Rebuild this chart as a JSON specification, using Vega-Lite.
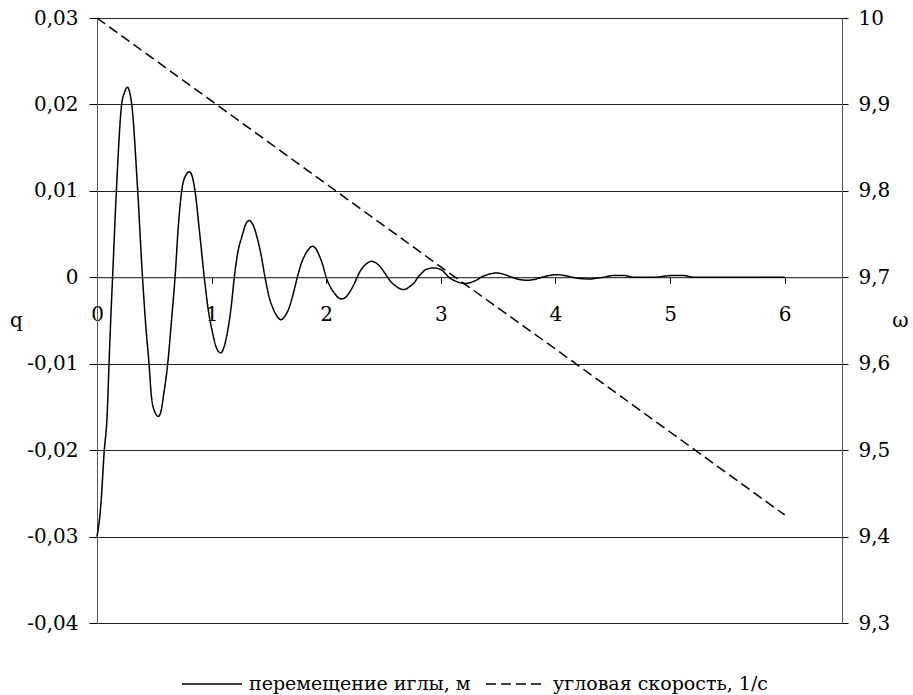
{
  "$schema": "https://vega.github.io/schema/vega-lite/v6.json",
  "width": 745,
  "height": 605,
  "autosize": {"type": "none"},
  "padding": {"left": 97, "top": 18, "right": 71, "bottom": 72},
  "background": "white",
  "config": {
    "font": "DejaVu Serif",
    "view": {"stroke": null},
    "axis": {"labelFont": "DejaVu Serif", "titleFont": "DejaVu Serif", "labelColor": "black", "titleColor": "black", "labelFontSize": 20, "titleFontSize": 20, "titleFontWeight": "normal", "tickColor": "black", "domainColor": "#555"},
    "legend": {"labelFont": "DejaVu Serif"}
  },
  "datasets": {
    "q": [
      {"t": 0, "q": -0.03}, {"t": 0.035, "q": -0.0261}, {"t": 0.061, "q": -0.0205}, {"t": 0.09, "q": -0.0155}, {"t": 0.105, "q": -0.01}, {"t": 0.122, "q": -0.0042}, {"t": 0.136, "q": 0},
      {"t": 0.169, "q": 0.01}, {"t": 0.215, "q": 0.02}, {"t": 0.24, "q": 0.0214}, {"t": 0.265, "q": 0.022}, {"t": 0.285, "q": 0.0214}, {"t": 0.303, "q": 0.02}, {"t": 0.355, "q": 0.01}, {"t": 0.397, "q": 0},
      {"t": 0.425, "q": -0.0055}, {"t": 0.454, "q": -0.01}, {"t": 0.475, "q": -0.0138}, {"t": 0.505, "q": -0.0156}, {"t": 0.535, "q": -0.0161}, {"t": 0.56, "q": -0.0154}, {"t": 0.579, "q": -0.0138}, {"t": 0.617, "q": -0.01}, {"t": 0.65, "q": -0.005}, {"t": 0.681, "q": 0},
      {"t": 0.71, "q": 0.006}, {"t": 0.739, "q": 0.01}, {"t": 0.775, "q": 0.0118}, {"t": 0.806, "q": 0.0122}, {"t": 0.83, "q": 0.0117}, {"t": 0.855, "q": 0.01}, {"t": 0.895, "q": 0.0052}, {"t": 0.936, "q": 0},
      {"t": 0.97, "q": -0.0037}, {"t": 1.008, "q": -0.0064}, {"t": 1.04, "q": -0.0081}, {"t": 1.079, "q": -0.00875}, {"t": 1.11, "q": -0.008}, {"t": 1.14, "q": -0.0062}, {"t": 1.17, "q": -0.0035}, {"t": 1.198, "q": 0},
      {"t": 1.23, "q": 0.003}, {"t": 1.264, "q": 0.0047}, {"t": 1.3, "q": 0.0062}, {"t": 1.329, "q": 0.00656}, {"t": 1.36, "q": 0.0061}, {"t": 1.397, "q": 0.0046}, {"t": 1.43, "q": 0.0027}, {"t": 1.466, "q": 0},
      {"t": 1.5, "q": -0.0022}, {"t": 1.536, "q": -0.0036}, {"t": 1.57, "q": -0.0045}, {"t": 1.606, "q": -0.0049}, {"t": 1.64, "q": -0.0045}, {"t": 1.677, "q": -0.0035}, {"t": 1.71, "q": -0.002}, {"t": 1.748, "q": 0},
      {"t": 1.78, "q": 0.0015}, {"t": 1.815, "q": 0.0026}, {"t": 1.85, "q": 0.0033}, {"t": 1.882, "q": 0.00359}, {"t": 1.91, "q": 0.0033}, {"t": 1.94, "q": 0.0025}, {"t": 1.97, "q": 0.0014}, {"t": 2.0, "q": 0},
      {"t": 2.035, "q": -0.0011}, {"t": 2.07, "q": -0.0018}, {"t": 2.1, "q": -0.0023}, {"t": 2.135, "q": -0.0025}, {"t": 2.17, "q": -0.0023}, {"t": 2.2, "q": -0.0018}, {"t": 2.235, "q": -0.001}, {"t": 2.27, "q": 0},
      {"t": 2.3, "q": 0.0008}, {"t": 2.33, "q": 0.0013}, {"t": 2.365, "q": 0.0017}, {"t": 2.397, "q": 0.00185}, {"t": 2.43, "q": 0.0017}, {"t": 2.465, "q": 0.0013}, {"t": 2.5, "q": 0.0007}, {"t": 2.535, "q": 0},
      {"t": 2.57, "q": -0.0006}, {"t": 2.605, "q": -0.001}, {"t": 2.64, "q": -0.0013}, {"t": 2.673, "q": -0.00142}, {"t": 2.705, "q": -0.0013}, {"t": 2.735, "q": -0.001}, {"t": 2.77, "q": -0.0006}, {"t": 2.8, "q": 0},
      {"t": 2.835, "q": 0.0005}, {"t": 2.87, "q": 0.0009}, {"t": 2.935, "q": 0.00108}, {"t": 3.0, "q": 0.0009}, {"t": 3.035, "q": 0.0005}, {"t": 3.07, "q": 0},
      {"t": 3.105, "q": -0.0003}, {"t": 3.14, "q": -0.0005}, {"t": 3.21, "q": -0.00073}, {"t": 3.28, "q": -0.0005}, {"t": 3.315, "q": -0.0003}, {"t": 3.35, "q": 0},
      {"t": 3.42, "q": 0.00035}, {"t": 3.488, "q": 0.0005}, {"t": 3.55, "q": 0.00035}, {"t": 3.62, "q": 0},
      {"t": 3.685, "q": -0.00025}, {"t": 3.75, "q": -0.00035}, {"t": 3.815, "q": -0.00025}, {"t": 3.88, "q": 0},
      {"t": 3.945, "q": 0.0002}, {"t": 4.01, "q": 0.0003}, {"t": 4.08, "q": 0.0002}, {"t": 4.15, "q": 0},
      {"t": 4.22, "q": -0.00015}, {"t": 4.3, "q": -0.0002}, {"t": 4.36, "q": -0.0001}, {"t": 4.42, "q": 0},
      {"t": 4.5, "q": 0.0002}, {"t": 4.6, "q": 0.0002}, {"t": 4.68, "q": 0}, {"t": 4.85, "q": 0},
      {"t": 5.02, "q": 0.0002}, {"t": 5.12, "q": 0.0002}, {"t": 5.2, "q": 0}, {"t": 5.6, "q": 0}, {"t": 6.0, "q": 0}
    ],
    "w": [
      {"t": 0, "w": 10}, {"t": 1, "w": 9.904}, {"t": 2, "w": 9.808}, {"t": 3, "w": 9.712}, {"t": 4, "w": 9.617}, {"t": 5, "w": 9.521}, {"t": 6, "w": 9.425}
    ]
  },
  "layer": [
    {
      "data": {"name": "q"},
      "mark": {"type": "line", "interpolate": "monotone", "strokeWidth": 1.5, "color": "black"},
      "encoding": {
        "x": {"field": "t", "type": "quantitative", "scale": {"domain": [0, 6.5], "nice": false},
          "axis": {"values": [0, 1, 2, 3, 4, 5, 6], "labelExpr": "toString(datum.value)", "offset": -345.7, "grid": false, "title": null, "tickSize": 6, "labelPadding": 21, "labelFlush": false, "labelOverlap": false, "domainColor": "#555"}},
        "y": {"field": "q", "type": "quantitative", "scale": {"domain": [-0.04, 0.03], "nice": false, "zero": false},
          "axis": {"values": [-0.04, -0.03, -0.02, -0.01, 0, 0.01, 0.02, 0.03], "grid": true, "gridColor": "#222", "gridWidth": 1, "tickSize": 8, "labelPadding": 11,
            "labelExpr": "replace(toString(round(datum.value*100)/100), '.', ',')",
            "title": "q", "titleAngle": 0, "titleX": -81, "titleY": 302, "titleAlign": "center", "titleBaseline": "middle"}},
        "strokeDash": {"datum": "перемещение иглы, м", "type": "nominal",
          "scale": {"domain": ["перемещение иглы, м", "угловая скорость, 1/с"], "range": [[1, 0], [10, 5]]},
          "legend": {"orient": "none", "legendX": 84, "legendY": 635, "direction": "horizontal", "title": null, "symbolType": "stroke", "symbolSize": 3600, "symbolStrokeWidth": 1.5, "symbolStrokeColor": "black", "labelFontSize": 19, "labelColor": "black", "labelOffset": 6, "columnPadding": 12, "labelLimit": 400}}
      }
    },
    {
      "data": {"name": "w"},
      "mark": {"type": "line", "strokeWidth": 1.5, "color": "black"},
      "encoding": {
        "x": {"field": "t", "type": "quantitative", "scale": {"domain": [0, 6.5], "nice": false}},
        "y": {"field": "w", "type": "quantitative", "scale": {"domain": [9.3, 10], "nice": false, "zero": false},
          "axis": {"orient": "right", "values": [9.3, 9.4, 9.5, 9.6, 9.7, 9.8, 9.9, 10], "grid": false, "tickSize": 6, "labelPadding": 10,
            "labelExpr": "replace(toString(round(datum.value*10)/10), '.', ',')",
            "title": "ω", "titleAngle": 0, "titleX": 58, "titleY": 302, "titleAlign": "center", "titleBaseline": "middle"}},
        "strokeDash": {"datum": "угловая скорость, 1/с", "type": "nominal"}
      }
    }
  ],
  "resolve": {"scale": {"y": "independent"}}
}
